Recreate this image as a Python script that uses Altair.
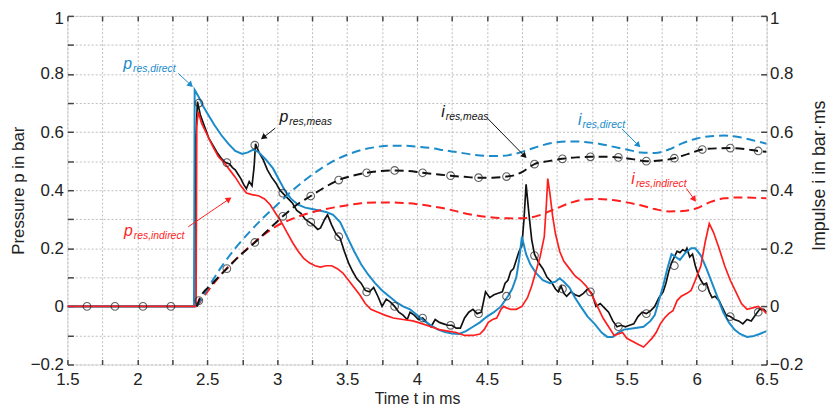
import math
import altair as alt
import pandas as pd

# ---------------- data ----------------
# measured pressure p_res,meas (black, solid)
p_meas_t = [1.5, 2.41, 2.415, 2.43, 2.45, 2.48, 2.51, 2.54, 2.57, 2.60, 2.63, 2.66, 2.68, 2.70, 2.72, 2.74,
            2.76, 2.78, 2.80, 2.82, 2.835, 2.845, 2.87, 2.90, 2.93, 2.96, 2.99, 3.02, 3.05, 3.08, 3.11, 3.14,
            3.17, 3.20, 3.23, 3.26, 3.29, 3.31, 3.34, 3.36, 3.39, 3.42, 3.45, 3.48, 3.51, 3.54, 3.57, 3.60,
            3.63, 3.66, 3.69, 3.72, 3.75, 3.78, 3.81, 3.84, 3.87, 3.90, 3.93, 3.95, 3.98, 4.01, 4.04, 4.07,
            4.10, 4.13, 4.16, 4.19, 4.22, 4.25, 4.28, 4.31, 4.34, 4.37, 4.40, 4.43, 4.46, 4.49, 4.52, 4.55,
            4.58, 4.61, 4.63, 4.65, 4.67, 4.69, 4.71, 4.73, 4.75, 4.765, 4.78, 4.80, 4.82, 4.84, 4.87, 4.90,
            4.93, 4.96, 4.99, 5.01, 5.03, 5.05, 5.07, 5.10, 5.13, 5.16, 5.19, 5.22, 5.25, 5.28, 5.31, 5.34,
            5.37, 5.40, 5.43, 5.46, 5.49, 5.52, 5.55, 5.58, 5.61, 5.64, 5.67, 5.70, 5.73, 5.76, 5.78, 5.80,
            5.82, 5.84, 5.86, 5.88, 5.90, 5.92, 5.93, 5.95, 5.97, 5.99, 6.01, 6.03, 6.05, 6.07, 6.09, 6.11,
            6.13, 6.16, 6.19, 6.21, 6.24, 6.27, 6.30, 6.33, 6.36, 6.39, 6.42, 6.45, 6.48, 6.50]
p_meas_v = [0.0, 0.0, 0.55, 0.705, 0.66, 0.62, 0.58, 0.555, 0.53, 0.51, 0.495, 0.49, 0.478, 0.47, 0.455, 0.44,
            0.42, 0.405, 0.43, 0.415, 0.48, 0.56, 0.53, 0.505, 0.47, 0.445, 0.425, 0.40, 0.385, 0.37, 0.355, 0.33,
            0.32, 0.30, 0.29, 0.28, 0.265, 0.27, 0.30, 0.315, 0.28, 0.25, 0.235, 0.19, 0.15, 0.12, 0.095, 0.08,
            0.055, 0.05, 0.065, 0.035, 0.0, 0.025, 0.015, 0.0, -0.02, -0.03, -0.045, -0.02, -0.03, -0.045, -0.04, -0.055,
            -0.07, -0.045, -0.055, -0.06, -0.065, -0.065, -0.075, -0.075, -0.04, -0.02, -0.01, -0.025, -0.02, 0.05, 0.03, 0.04,
            0.045, 0.05, 0.08, 0.09, 0.12, 0.13, 0.16, 0.19, 0.21, 0.30, 0.42, 0.32, 0.23, 0.18, 0.15, 0.13,
            0.10, 0.085, 0.06, 0.05, 0.07, 0.045, 0.035, 0.05, 0.04, 0.035, 0.045, 0.06, 0.045, 0.0, 0.01, -0.005,
            -0.02, -0.05, -0.07, -0.065, -0.07, -0.065, -0.06, -0.035, -0.02, -0.025, -0.015, 0.0, 0.03, 0.05, 0.08, 0.12,
            0.15, 0.17, 0.19, 0.185, 0.195, 0.19, 0.20, 0.17, 0.18, 0.14, 0.11, 0.09, 0.075, 0.08, 0.05, 0.03,
            0.035, 0.02, -0.01, -0.03, -0.035, -0.045, -0.05, -0.06, -0.045, -0.05, -0.03, -0.01, -0.01, -0.02]

# direct model pressure p_res,direct (blue, solid)
p_dir_t = [1.5, 2.405, 2.41, 2.44, 2.47, 2.50, 2.55, 2.60, 2.65, 2.70, 2.75, 2.79, 2.83, 2.87, 2.92, 2.97,
           3.02, 3.06, 3.10, 3.15, 3.20, 3.25, 3.30, 3.35, 3.40, 3.45, 3.50, 3.55, 3.60, 3.65, 3.70, 3.75,
           3.80, 3.85, 3.90, 3.95, 4.00, 4.05, 4.10, 4.15, 4.20, 4.25, 4.30, 4.35, 4.40, 4.45, 4.50, 4.55,
           4.60, 4.65, 4.68, 4.71, 4.73, 4.75, 4.78, 4.81, 4.85, 4.90, 4.95, 4.99, 5.02, 5.05, 5.09, 5.13,
           5.17, 5.22, 5.27, 5.32, 5.36, 5.40, 5.44, 5.48, 5.55, 5.62, 5.67, 5.70, 5.73, 5.76, 5.79, 5.82,
           5.85, 5.88, 5.92, 5.96, 5.99, 6.03, 6.07, 6.11, 6.15, 6.19, 6.23, 6.27, 6.31, 6.36, 6.40, 6.45, 6.50]
p_dir_v = [0.0, 0.0, 0.745, 0.72, 0.69, 0.665, 0.625, 0.59, 0.56, 0.535, 0.525, 0.53, 0.54, 0.53, 0.505, 0.475,
           0.43, 0.395, 0.37, 0.35, 0.34, 0.335, 0.33, 0.325, 0.315, 0.29, 0.24, 0.19, 0.145, 0.11, 0.08, 0.055,
           0.035, 0.015, 0.0, -0.01, -0.03, -0.05, -0.065, -0.08, -0.088, -0.093, -0.095, -0.085, -0.07, -0.055, -0.035, -0.02,
           0.0, 0.035, 0.06, 0.10, 0.16, 0.24, 0.18, 0.145, 0.115, 0.09, 0.08, 0.085, 0.097, 0.085, 0.065, 0.03,
           0.0, -0.035, -0.06, -0.09, -0.105, -0.105, -0.09, -0.08, -0.075, -0.07, -0.05, -0.03, 0.02, 0.07, 0.13, 0.18,
           0.17, 0.16, 0.185, 0.2, 0.2, 0.175, 0.13, 0.08, 0.03, -0.02, -0.055, -0.08, -0.095, -0.105, -0.103, -0.095, -0.085]

# indirect model pressure p_res,indirect (red, solid)
p_ind_t = [1.5, 2.42, 2.425, 2.435, 2.46, 2.50, 2.54, 2.58, 2.62, 2.66, 2.70, 2.74, 2.78, 2.82, 2.87, 2.91,
           2.95, 2.99, 3.03, 3.07, 3.11, 3.15, 3.19, 3.23, 3.27, 3.31, 3.35, 3.39, 3.43, 3.47, 3.51, 3.55,
           3.59, 3.63, 3.67, 3.72, 3.77, 3.83, 3.90, 3.97, 4.04, 4.10, 4.16, 4.22, 4.28, 4.34, 4.40, 4.45,
           4.48, 4.51, 4.54, 4.57, 4.60, 4.62, 4.64, 4.67, 4.71, 4.75, 4.79, 4.82, 4.85, 4.88, 4.91, 4.925,
           4.935, 4.95, 4.97, 4.99, 5.02, 5.05, 5.09, 5.13, 5.17, 5.21, 5.25, 5.29, 5.33, 5.37, 5.41, 5.44,
           5.47, 5.50, 5.54, 5.58, 5.62, 5.65, 5.68, 5.71, 5.74, 5.77, 5.80, 5.83, 5.86, 5.89, 5.93, 5.96,
           5.99, 6.03, 6.06, 6.09, 6.12, 6.16, 6.20, 6.24, 6.28, 6.32, 6.36, 6.40, 6.44, 6.47, 6.50]
p_ind_v = [0.0, 0.0, 0.62, 0.67, 0.63, 0.59, 0.55, 0.515, 0.495, 0.47, 0.445, 0.415, 0.39, 0.385, 0.38, 0.37,
           0.35, 0.32, 0.29, 0.255, 0.22, 0.19, 0.165, 0.15, 0.14, 0.135, 0.14, 0.14, 0.13, 0.115, 0.09, 0.065,
           0.04, 0.01, -0.01, -0.02, -0.03, -0.04, -0.045, -0.05, -0.06, -0.07, -0.08, -0.085, -0.09, -0.1, -0.1, -0.095,
           -0.08, -0.055, -0.045, -0.04, -0.01, 0.0, -0.005, -0.01, -0.01, 0.0, 0.03, 0.07, 0.12, 0.17, 0.24, 0.35,
           0.44, 0.39, 0.31, 0.25, 0.19, 0.155, 0.13, 0.105, 0.09, 0.07, 0.04, 0.0, -0.04, -0.07, -0.1, -0.095,
           -0.09, -0.11, -0.12, -0.13, -0.14, -0.125, -0.11, -0.09, -0.06, -0.04, -0.025, -0.015, 0.02, 0.035, 0.045, 0.055,
           0.09, 0.14, 0.22, 0.285, 0.255, 0.20, 0.14, 0.09, 0.05, 0.01, -0.01, -0.005, 0.0, -0.01, -0.025]

# impulses (dashed)
i_meas_t = [2.425, 2.44, 2.54, 2.64, 2.74, 2.84, 2.94, 3.04, 3.14, 3.24, 3.34, 3.44, 3.54, 3.64, 3.74, 3.84,
            3.94, 4.04, 4.14, 4.24, 4.34, 4.44, 4.54, 4.64, 4.70, 4.76, 4.80, 4.84, 4.94, 5.04, 5.14, 5.24,
            5.34, 5.44, 5.54, 5.64, 5.74, 5.84, 5.94, 6.04, 6.14, 6.24, 6.34, 6.44, 6.50]
i_meas_v = [0.0, 0.02, 0.08, 0.13, 0.178, 0.22, 0.265, 0.31, 0.35, 0.38, 0.41, 0.435, 0.45, 0.46, 0.466, 0.468,
            0.466, 0.46, 0.455, 0.45, 0.446, 0.443, 0.443, 0.447, 0.452, 0.465, 0.478, 0.49, 0.50, 0.508, 0.513, 0.515,
            0.515, 0.513, 0.507, 0.50, 0.502, 0.51, 0.525, 0.54, 0.544, 0.545, 0.542, 0.535, 0.532]

i_dir_t = [2.425, 2.5, 2.6, 2.7, 2.8, 2.9, 3.0, 3.1, 3.2, 3.3, 3.4, 3.5, 3.6, 3.7, 3.8, 3.9, 4.0, 4.1, 4.2,
           4.3, 4.4, 4.5, 4.6, 4.7, 4.8, 4.9, 5.0, 5.1, 5.2, 5.3, 5.4, 5.5, 5.6, 5.7, 5.8, 5.9, 6.0, 6.1,
           6.2, 6.3, 6.4, 6.5]
i_dir_v = [0.0, 0.06, 0.135, 0.2, 0.255, 0.305, 0.35, 0.395, 0.435, 0.47, 0.5, 0.522, 0.538, 0.548, 0.553, 0.553,
           0.55, 0.545, 0.537, 0.53, 0.522, 0.518, 0.518, 0.525, 0.54, 0.555, 0.565, 0.568, 0.566, 0.56, 0.55, 0.54,
           0.53, 0.528, 0.54, 0.562, 0.578, 0.586, 0.588, 0.583, 0.572, 0.56]

i_ind_t = [2.425, 2.5, 2.6, 2.7, 2.8, 2.9, 3.0, 3.1, 3.2, 3.3, 3.4, 3.5, 3.6, 3.7, 3.8, 3.9, 4.0, 4.1, 4.2,
           4.3, 4.4, 4.5, 4.6, 4.7, 4.8, 4.9, 5.0, 5.1, 5.2, 5.3, 5.4, 5.5, 5.6, 5.7, 5.8, 5.9, 6.0, 6.1,
           6.2, 6.3, 6.4, 6.5]
i_ind_v = [0.0, 0.05, 0.11, 0.16, 0.205, 0.245, 0.278, 0.30, 0.317, 0.33, 0.34, 0.348, 0.355, 0.358, 0.358, 0.356,
           0.352, 0.345, 0.337, 0.325, 0.315, 0.308, 0.304, 0.303, 0.305, 0.318, 0.338, 0.357, 0.368, 0.37, 0.366, 0.358,
           0.348, 0.335, 0.327, 0.328, 0.338, 0.36, 0.372, 0.375, 0.374, 0.372]

# circle markers on the measured curves
mark_p_t = [1.64, 1.84, 2.04, 2.24, 2.44, 2.64, 2.84, 3.04, 3.24, 3.44, 3.64, 3.84, 4.04, 4.24, 4.44, 4.64,
            4.84, 5.04, 5.24, 5.44, 5.64, 5.84, 6.04, 6.24, 6.44]
mark_p_v = [0.0, 0.0, 0.0, 0.0, 0.70, 0.495, 0.555, 0.39, 0.29, 0.24, 0.05, 0.0, -0.04, -0.065, -0.025, 0.035,
            0.175, 0.06, 0.05, -0.07, -0.025, 0.14, 0.065, -0.035, -0.02]
mark_i_t = [2.44, 2.64, 2.84, 3.04, 3.24, 3.44, 3.64, 3.84, 4.04, 4.24, 4.44, 4.64, 4.84, 5.04, 5.24, 5.44,
            5.64, 5.84, 6.04, 6.24, 6.44]
mark_i_v = [0.02, 0.13, 0.22, 0.31, 0.38, 0.435, 0.46, 0.468, 0.46, 0.45, 0.443, 0.447, 0.49, 0.508, 0.515, 0.513,
            0.50, 0.51, 0.54, 0.545, 0.535]

# annotations
lab_main = ["p", "p", "p", "i", "i", "i"]
lab_sub = ["res,direct", "res,meas", "res,indirect", "res,meas", "res,direct", "res,indirect"]
lab_series = ["direct", "meas", "indirect", "meas", "direct", "indirect"]
lab_t = [1.962, 3.079, 1.967, 4.198, 5.176, 5.558]
lab_v = [0.816, 0.635, 0.243, 0.652, 0.625, 0.420]
arr_t0 = [2.293, 2.987, 2.364, 4.503, 5.466, 5.926]
arr_v0 = [0.802, 0.614, 0.274, 0.648, 0.611, 0.406]
arr_t1 = [2.400, 2.881, 2.676, 4.786, 5.600, 5.997]
arr_v1 = [0.754, 0.574, 0.376, 0.509, 0.546, 0.359]

series_names = ["direct", "meas", "indirect"]
series_colors = ["#1b8bc9", "#111111", "#ff1e1e"]

x_ticks = [round(1.5 + 0.25 * k, 2) for k in range(21)]
y_ticks = [round(-0.2 + 0.1 * k, 1) for k in range(13)]
y_major = [round(-0.2 + 0.2 * k, 1) for k in range(7)]

# ---------------- chart ----------------
W, H = 706, 352
FONT = "Liberation Sans"
AX = "#444444"
GRID = "#bdbdbd"
TXT = "#222222"

xs = alt.Scale(domain=[1.5, 6.5], nice=False, zero=False)
ys = alt.Scale(domain=[-0.2, 1.0], nice=False, zero=False)
cs = alt.Scale(domain=series_names, range=series_colors)


def df(t, v):
    return pd.DataFrame({"t": t, "v": v})


lab_x = "abs(datum.value*2 - round(datum.value*2)) < 0.001 ? format(datum.value, '~g') : ''"
lab_y = "abs(datum.value*5 - round(datum.value*5)) < 0.001 ? format(datum.value, '~g') : ''"
top_off = {"condition": {"test": "datum.value > 0.99", "value": 3}, "value": 0}

ax_x_main = alt.Axis(orient="bottom", values=x_ticks, labelExpr=lab_x, grid=True, gridDash=[2, 2],
                     gridColor=GRID, gridWidth=1, ticks=False, domain=False, title="Time t in ms",
                     labelFont=FONT, labelFontSize=17, labelColor=TXT, labelPadding=7, labelFlush=False,
                     labelOverlap=False, titleFont=FONT, titleFontSize=16, titleFontWeight="normal",
                     titleColor=TXT, titlePadding=3)
ax_x_tick_b = alt.Axis(orient="top", offset=-H, values=x_ticks, labels=False, grid=False, domain=False,
                       ticks=True, tickSize=5, tickColor=AX, tickWidth=1.5, title=None)
ax_x_tick_t = alt.Axis(orient="bottom", offset=-H, values=x_ticks, labels=False, grid=False, domain=False,
                       ticks=True, tickSize=5, tickColor=AX, tickWidth=1.5, title=None)
ax_y_main = alt.Axis(orient="left", values=y_ticks, labelExpr=lab_y, grid=True, gridDash=[2, 2],
                     gridColor=GRID, gridWidth=1, ticks=False, domain=False, title="Pressure p in bar",
                     labelFont=FONT, labelFontSize=17, labelColor=TXT, labelPadding=4, labelFlush=False,
                     labelOverlap=False, labelOffset=top_off, titleFont=FONT, titleFontSize=17,
                     titleFontWeight="normal", titleColor=TXT, titleX=-40, titleBaseline="bottom")
ax_y_tick_l = alt.Axis(orient="right", offset=-W, values=y_ticks, labels=False, grid=False, domain=False,
                       ticks=True, tickSize=6, tickColor=AX, tickWidth=1.5, title=None)
ax_y_right = alt.Axis(orient="right", values=y_major, format="~g", grid=False, ticks=False, domain=False,
                      title="Impulse i in bar·ms", titleAngle=270, titleBaseline="top", titleX=44, titleY=161,
                      labelFont=FONT, labelFontSize=17, labelColor=TXT, labelPadding=3, labelFlush=False,
                      labelOverlap=False, labelOffset=top_off, titleFont=FONT, titleFontSize=18,
                      titleFontWeight="normal", titleColor=TXT)
ax_y_tick_r = alt.Axis(orient="left", offset=-W, values=y_major, labels=False, grid=False, domain=False,
                       ticks=True, tickSize=6, tickColor=AX, tickWidth=1.5, title=None)


def line(t, v, color, width, xaxis=None, yaxis=None, dash=None, interp="linear"):
    kw = dict(color=color, strokeWidth=width, interpolate=interp, clip=True)
    if dash:
        kw["strokeDash"] = dash
    return alt.Chart(df(t, v)).mark_line(**kw).encode(
        x=alt.X("t:Q", scale=xs, axis=xaxis),
        y=alt.Y("v:Q", scale=ys, axis=yaxis),
        order="t:Q",
    )


black_p = line(p_meas_t, p_meas_v, "#111111", 1.7, ax_x_main, ax_y_main)
blue_p = line(p_dir_t, p_dir_v, "#1b8bc9", 2.0, ax_x_tick_b, ax_y_tick_l)
red_p = line(p_ind_t, p_ind_v, "#ff1e1e", 1.7, ax_x_tick_t, ax_y_right)
red_i = line(i_ind_t, i_ind_v, "#ff1e1e", 2.0, None, ax_y_tick_r, dash=[9, 5], interp="monotone")
blue_i = line(i_dir_t, i_dir_v, "#1b8bc9", 2.0, None, None, dash=[9, 5], interp="monotone")
black_i = line(i_meas_t, i_meas_v, "#111111", 2.0, None, None, dash=[9, 5], interp="monotone")

markers = alt.Chart(pd.concat([df(mark_p_t, mark_p_v), df(mark_i_t, mark_i_v)])).mark_point(
    shape="circle", filled=False, size=60, color="#222", strokeWidth=1.1
).encode(x=alt.X("t:Q", scale=xs, axis=None), y=alt.Y("v:Q", scale=ys, axis=None))

# annotation labels
lab_df = pd.DataFrame({"t": lab_t, "v": lab_v, "main": lab_main, "sub": lab_sub, "s": lab_series})
main_txt = alt.Chart(lab_df).mark_text(font=FONT, fontSize=16, fontStyle="italic", align="right",
                                       baseline="alphabetic").encode(
    x=alt.X("t:Q", scale=xs, axis=None), y=alt.Y("v:Q", scale=ys, axis=None), text="main:N",
    color=alt.Color("s:N", scale=cs, legend=None))
sub_txt = alt.Chart(lab_df).mark_text(font=FONT, fontSize=10.5, fontStyle="italic", align="left",
                                      baseline="alphabetic", dx=1, dy=3).encode(
    x=alt.X("t:Q", scale=xs, axis=None), y=alt.Y("v:Q", scale=ys, axis=None), text="sub:N",
    color=alt.Color("s:N", scale=cs, legend=None))

# arrows
px_x = W / 5.0
px_y = H / 1.2
ang, ht, hv = [], [], []
for a, b, c, d in zip(arr_t0, arr_v0, arr_t1, arr_v1):
    dx = (c - a) * px_x
    dy = -(d - b) * px_y
    L = math.hypot(dx, dy)
    ang.append((math.degrees(math.atan2(dx, -dy)) + 360) % 360)
    ht.append(c - 3.5 * dx / L / px_x)
    hv.append(d + 3.5 * dy / L / px_y)
arr_df = pd.DataFrame({"t0": arr_t0, "v0": arr_v0, "t1": ht, "v1": hv, "ang": ang, "s": lab_series})
arr_lines = alt.Chart(arr_df).mark_rule(strokeWidth=1).encode(
    x=alt.X("t0:Q", scale=xs, axis=None), y=alt.Y("v0:Q", scale=ys, axis=None),
    x2="t1:Q", y2="v1:Q", color=alt.Color("s:N", scale=cs, legend=None))
arr_heads = alt.Chart(arr_df).mark_point(shape="triangle-up", filled=True, size=45, opacity=1).encode(
    x=alt.X("t1:Q", scale=xs, axis=None), y=alt.Y("v1:Q", scale=ys, axis=None),
    angle=alt.Angle("ang:Q", scale=None), color=alt.Color("s:N", scale=cs, legend=None))

chart = alt.layer(
    black_p, blue_p, red_p, red_i, blue_i, black_i, markers, arr_lines, arr_heads, main_txt, sub_txt
).resolve_axis(x="independent", y="independent").properties(
    width=W, height=H,
    autosize=alt.AutoSizeParams(type="none"),
    padding={"left": 60, "top": 6, "right": 64, "bottom": 47},
).configure_view(stroke=AX, strokeWidth=1.6).configure(background="white")

chart.save("out.html", embed_options={"renderer": "svg", "actions": False})
